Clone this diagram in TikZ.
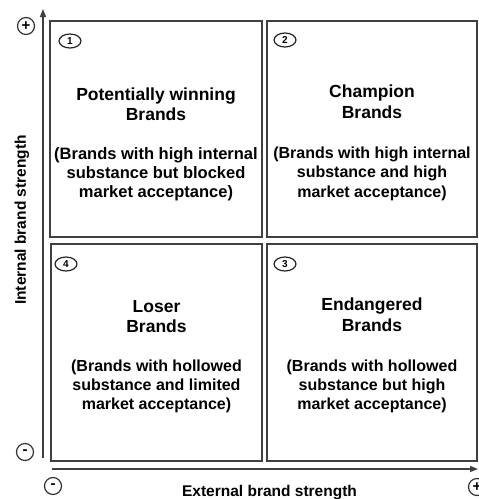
\documentclass[tikz,border=0pt]{standalone}
\usepackage{fontspec}
\setmainfont{Liberation Sans}
\usetikzlibrary{arrows.meta,shapes.geometric}
\begin{document}
\begin{tikzpicture}[x=1pt,y=-1pt,
  quad/.style={draw=black!75,line width=1.5pt,fill=none},
  axis/.style={draw=black!75,line width=1.3pt},
  ttl/.style={anchor=base,inner sep=0pt,font=\fontsize{17.5}{20}\selectfont\bfseries},
  dsc/.style={anchor=base,inner sep=0pt,font=\fontsize{16}{19}\selectfont\bfseries},
  num/.style={draw=black!85,line width=1.2pt,ellipse,minimum width=22pt,minimum height=14pt,inner sep=0pt,font=\fontsize{10}{10}\selectfont\bfseries},
  sgn/.style={draw=black!80,line width=1.2pt,circle,minimum size=17pt,inner sep=0pt,font=\fontsize{15}{15}\selectfont\bfseries},
  albl/.style={inner sep=0pt,anchor=base,font=\fontsize{15.5}{18}\selectfont\bfseries}]
\useasboundingbox (0,0) rectangle (479,499);
% quadrants
\draw[quad] (50,21) rectangle (262,237);
\draw[quad] (267,21) rectangle (477,237);
\draw[quad] (51,244) rectangle (262,461);
\draw[quad] (267,244) rectangle (477,461);
% axes
\coordinate (ys) at (43,458);
\coordinate (ye) at (43,9);
\coordinate (xs) at (52,469);
\coordinate (xe) at (478,469);
\draw[axis,-{Triangle[length=8pt,width=6pt]}] (ys) -- (ye);
\draw[axis,-{Triangle[length=8pt,width=6pt]}] (xs) -- (xe);
% signs
\node[sgn] (p1) at (26,26) {+};
\node[sgn] (m1) at (25,452) {-};
\node[sgn] (m2) at (53,486) {-};
\node[sgn] (p2) at (477,487) {+};
% axis labels
\node[albl,rotate=90] (il) at (26,220) {Internal brand strength};
\node[albl] (el) at (269.5,496) {External brand strength};
% numbers
\node[num] (n1) at (70,41) {1};
\node[num] (n2) at (285,40) {2};
\node[num] (n3) at (285,264) {3};
\node[num] (n4) at (66,264) {4};
% box 1
\node[ttl] (t1a) at (156,100) {Potentially winning};
\node[ttl] (t1b) at (156,120) {Brands};
\node[dsc,font=\fontsize{16.5}{19}\selectfont\bfseries] (d1a) at (156,159) {(Brands with high internal};
\node[dsc,font=\fontsize{16.5}{19}\selectfont\bfseries] (d1b) at (156,178) {substance but blocked};
\node[dsc,font=\fontsize{16.5}{19}\selectfont\bfseries] (d1c) at (156,197) {market acceptance)};
% box 2
\node[ttl] (t2a) at (372,97) {Champion};
\node[ttl] (t2b) at (372,118) {Brands};
\node[dsc] (d2a) at (372,158) {(Brands with high internal};
\node[dsc] (d2b) at (372,177) {substance and high};
\node[dsc] (d2c) at (372,197) {market acceptance)};
% box 3
\node[ttl] (t3a) at (372,310) {Endangered};
\node[ttl] (t3b) at (372,331) {Brands};
\node[dsc] (d3a) at (372,371) {(Brands with hollowed};
\node[dsc] (d3b) at (372,390) {substance but high};
\node[dsc] (d3c) at (372,409) {market acceptance)};
% box 4
\node[ttl] (t4a) at (156.5,312) {Loser};
\node[ttl] (t4b) at (156.5,332) {Brands};
\node[dsc] (d4a) at (156.5,371) {(Brands with hollowed};
\node[dsc] (d4b) at (156.5,390) {substance and limited};
\node[dsc] (d4c) at (156.5,409) {market acceptance)};
\end{tikzpicture}
\end{document}
